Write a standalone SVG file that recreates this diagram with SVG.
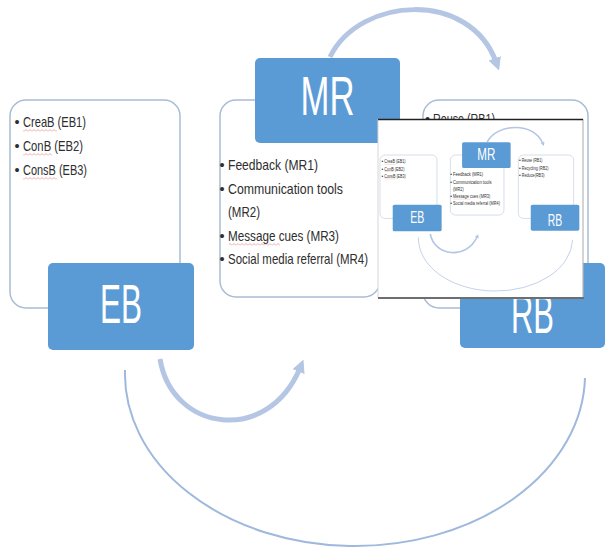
<svg xmlns="http://www.w3.org/2000/svg" xmlns:xlink="http://www.w3.org/1999/xlink" width="606" height="550" viewBox="0 0 606 550">
  <style>
    .box { fill: #ffffff; stroke: #a9bcd3; stroke-width: 1.5; }
    .tile { fill: #5b9bd5; }
    .t { font-family: "Liberation Sans Narrow", "Liberation Sans", Arial, sans-serif; font-size: 14.5px; fill: #2e2e2e; }
    .lbl { font-family: "Liberation Sans Narrow", "Liberation Sans", Arial, sans-serif; font-size: 55px; fill: #ffffff; text-anchor: middle; }
    .arrow { fill: none; stroke: #b4c6e4; stroke-width: 5; }
    .loop { fill: none; stroke: #9fb8dd; stroke-width: 2; }
    .sq { fill: url(#squiggle); opacity: 0.7; }
  </style>
  <defs>
    <marker id="head" viewBox="0 0 10 10" refX="3" refY="5" markerWidth="13" markerHeight="13" markerUnits="userSpaceOnUse" orient="auto">
      <path d="M0,0 L10,5 L0,10 z" fill="#b4c6e4"/>
    </marker>
    <!-- spell-check style wavy underline -->
    <pattern id="squiggle" width="4" height="3" patternUnits="userSpaceOnUse">
      <path d="M0,2.5 L2,0.5 L4,2.5" fill="none" stroke="#e06666" stroke-width="0.8"/>
    </pattern>
  </defs>

  <rect x="0" y="0" width="606" height="550" fill="#ffffff"/>

  <g id="slide">
    <g id="connectors">
      <path id="mr-to-rb" class="arrow" d="M330,57 C360,-4 470,-10 496,62" marker-end="url(#head)"/>
      <path id="eb-to-mr" class="arrow" d="M160,359 C172,432 268,445 300,368" marker-end="url(#head)"/>
      <path id="rb-to-eb" class="loop" d="M125,370 A230,172 0 0 0 585,378"/>
    </g>

    <g id="node-eb">
      <rect class="box" x="10" y="100" width="170" height="208" rx="16"/>
      <text class="t" x="14.5" y="127">•</text>
      <text class="t" x="23" y="127" textLength="63" lengthAdjust="spacingAndGlyphs">CreaB (EB1)</text>
      <rect class="sq" x="23" y="129" width="34" height="3"/>
      <text class="t" x="14.5" y="151">•</text>
      <text class="t" x="23" y="151" textLength="60" lengthAdjust="spacingAndGlyphs">ConB (EB2)</text>
      <rect class="sq" x="23" y="153" width="29" height="3"/>
      <text class="t" x="14.5" y="175">•</text>
      <text class="t" x="23" y="175" textLength="64" lengthAdjust="spacingAndGlyphs">ConsB (EB3)</text>
      <rect class="sq" x="23" y="177" width="34" height="3"/>
      <rect class="tile" x="48" y="263" width="146" height="87" rx="5"/>
      <text class="lbl" x="121" y="323" textLength="42" lengthAdjust="spacingAndGlyphs">EB</text>
    </g>

    <g id="node-mr">
      <rect class="box" x="220" y="100" width="160" height="197" rx="16"/>
      <rect class="tile" x="255" y="58" width="145" height="85" rx="5"/>
      <text class="lbl" x="327.5" y="115" font-size="52" textLength="54" lengthAdjust="spacingAndGlyphs">MR</text>
      <text class="t" x="219.5" y="170">•</text>
      <text class="t" x="228" y="170" textLength="90" lengthAdjust="spacingAndGlyphs">Feedback (MR1)</text>
      <text class="t" x="219.5" y="194">•</text>
      <text class="t" x="228" y="194" textLength="115" lengthAdjust="spacingAndGlyphs">Communication tools</text>
      <text class="t" x="228" y="217" textLength="32" lengthAdjust="spacingAndGlyphs">(MR2)</text>
      <text class="t" x="219.5" y="241">•</text>
      <text class="t" x="228" y="241" textLength="111" lengthAdjust="spacingAndGlyphs">Message cues (MR3)</text>
      <rect class="sq" x="229" y="243" width="51" height="3"/>
      <text class="t" x="219.5" y="264">•</text>
      <text class="t" x="228" y="264" textLength="140" lengthAdjust="spacingAndGlyphs">Social media referral (MR4)</text>
    </g>

    <g id="node-rb">
      <rect class="box" x="423" y="100" width="165" height="208" rx="16"/>
      <text class="t" x="425" y="124">•</text>
      <text class="t" x="433" y="124" textLength="62" lengthAdjust="spacingAndGlyphs">Reuse (RB1)</text>
      <text class="t" x="425" y="148">•</text>
      <text class="t" x="433" y="148" textLength="80" lengthAdjust="spacingAndGlyphs">Recycling (RB2)</text>
      <text class="t" x="425" y="172">•</text>
      <text class="t" x="433" y="172" textLength="68" lengthAdjust="spacingAndGlyphs">Reduce(RB3)</text>
      <rect class="tile" x="460" y="263" width="145" height="85" rx="5"/>
      <text class="lbl" x="532.5" y="333" textLength="43" lengthAdjust="spacingAndGlyphs">RB</text>
    </g>
  </g>

  <!-- small pasted copy of the whole slide -->
  <g id="inset">
    <rect x="378" y="119" width="205" height="179" fill="#ffffff"/>
    <use xlink:href="#slide" href="#slide" transform="translate(376.65 124.5) scale(0.335 0.305)"/>
    <line x1="378" y1="119" x2="378" y2="298" stroke="#d6d6d6" stroke-width="1"/>
    <line x1="583" y1="119" x2="583" y2="299" stroke="#b8b8b8" stroke-width="1.2"/>
    <line x1="378" y1="119.5" x2="583" y2="119.5" stroke="#222222" stroke-width="1.5"/>
    <line x1="378" y1="298" x2="584" y2="298" stroke="#6e6e6e" stroke-width="2"/>
  </g>
</svg>
